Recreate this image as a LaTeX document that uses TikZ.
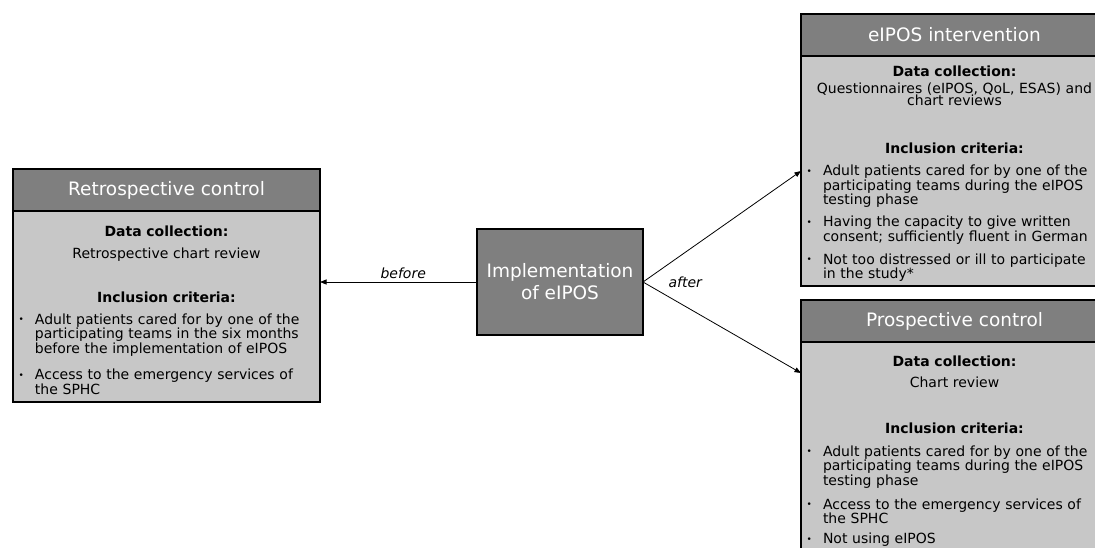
\documentclass[tikz,border=0pt]{standalone}
\usepackage{fontspec}
\setmainfont{DejaVu Sans}
\usetikzlibrary{positioning, arrows.meta, calc}

\definecolor{headgray}{RGB}{127,127,127}
\definecolor{bodygray}{RGB}{199,199,199}

% one bullet point of the criteria lists
\newcommand{\critem}[2][8pt]{\par\vspace{#1}\hangindent=17pt\hangafter=1\noindent\makebox[17pt][l]{\hspace{0.5pt}\raisebox{1.6pt}{\fontsize{9}{9}\selectfont\textbullet}}#2\par}

\begin{document}
\begin{tikzpicture}[
    x=1pt, y=-1pt,
    head/.style={
        rectangle,
        draw=black,
        line width=2pt,
        fill=headgray,
        text=white,
        minimum width=307pt,
        minimum height=42pt,
        inner sep=0pt,
        outer sep=0pt,
        font=\fontsize{18.5}{22}\selectfont
    },
    bodybox/.style={
        rectangle,
        draw=black,
        line width=2pt,
        fill=bodygray,
        minimum width=307pt,
        inner sep=0pt,
        outer sep=0pt
    },
    bodytext/.style={
        text width=297pt,
        inner sep=0pt,
        outer sep=0pt,
        font=\fontsize{14}{12.5}\selectfont
    },
    impl/.style={
        rectangle,
        draw=black,
        line width=2pt,
        fill=headgray,
        text=white,
        minimum width=166pt,
        minimum height=106pt,
        align=center,
        outer sep=0pt,
        font=\fontsize{18.5}{22}\selectfont
    },
    arrow/.style={
        -{Triangle[length=6.5pt, width=5pt]},
        line width=0.8pt,
        draw=black
    },
    lbl/.style={
        font=\fontsize{14}{16}\selectfont\itshape
    }
]
    \useasboundingbox (0,0) rectangle (1095,547);
    \clip (0,0) rectangle (1095,547);

    % Retrospective control
    \node[head, anchor=north west] (rhead) at (13,169) {Retrospective control};
    \node[bodybox, below=0pt of rhead, minimum height=191pt] (rbody) {};
    \node[bodytext, below=14.5pt of rhead.south] (rtext) {%
        {\centering\textbf{Data collection:}\par}\vspace{9.5pt}
        {\centering Retrospective chart review\par}\vspace{29.5pt}
        {\centering\textbf{Inclusion criteria:}\par}\raggedright
        \critem[9.5pt]{Adult patients cared for by one of the\newline participating teams in the six months\newline before the implementation of eIPOS}
        \critem[12pt]{Access to the emergency services of\newline the SPHC}};

    % Implementation
    \node[impl] (mid) at (560,282) {Implementation\\of eIPOS};

    % eIPOS intervention
    \node[head, anchor=north west] (ehead) at (801,14) {eIPOS intervention};
    \node[bodybox, below=0pt of ehead, minimum height=230pt] (ebody) {};
    \node[bodytext, below=9.5pt of ehead.south] (etext) {%
        {\centering\textbf{Data collection:}\par}\vspace{4.5pt}
        {\centering Questionnaires (eIPOS, QoL, ESAS) and\\chart reviews\par}\vspace{35.5pt}
        {\centering\textbf{Inclusion criteria:}\par}\raggedright
        \critem[9.5pt]{Adult patients cared for by one of the\newline participating teams during the eIPOS\newline testing phase}
        \critem[7.5pt]{Having the capacity to give written\newline consent; sufficiently fluent in German}
        \critem[8.5pt]{Not too distressed or ill to participate\newline in the study*}};

    % Prospective control
    \node[head, anchor=north west] (phead) at (801,300) {Prospective control};
    \node[bodybox, below=0pt of phead, minimum height=228pt] (pbody) {};
    \node[bodytext, below=13.5pt of phead.south] (ptext) {%
        {\centering\textbf{Data collection:}\par}\vspace{8.5pt}
        {\centering Chart review\par}\vspace{33.5pt}
        {\centering\textbf{Inclusion criteria:}\par}\raggedright
        \critem[10.5pt]{Adult patients cared for by one of the\newline participating teams during the eIPOS\newline testing phase}
        \critem[9.5pt]{Access to the emergency services of\newline the SPHC}
        \critem[7.5pt]{Not using eIPOS}};

    % Arrows
    \draw[arrow] (mid.west) -- (mid.west -| rbody.east)
        node[lbl, pos=0.47, above] (beforelbl) {before};
    \draw[arrow] (mid.east) -- (ebody.west);
    \coordinate (ptip) at ($(pbody.north west)+(0,31)$);
    \draw[arrow] (mid.east) -- (ptip);
    \node[lbl, right=22pt of mid.east] (afterlbl) {after};

\end{tikzpicture}
\end{document}
